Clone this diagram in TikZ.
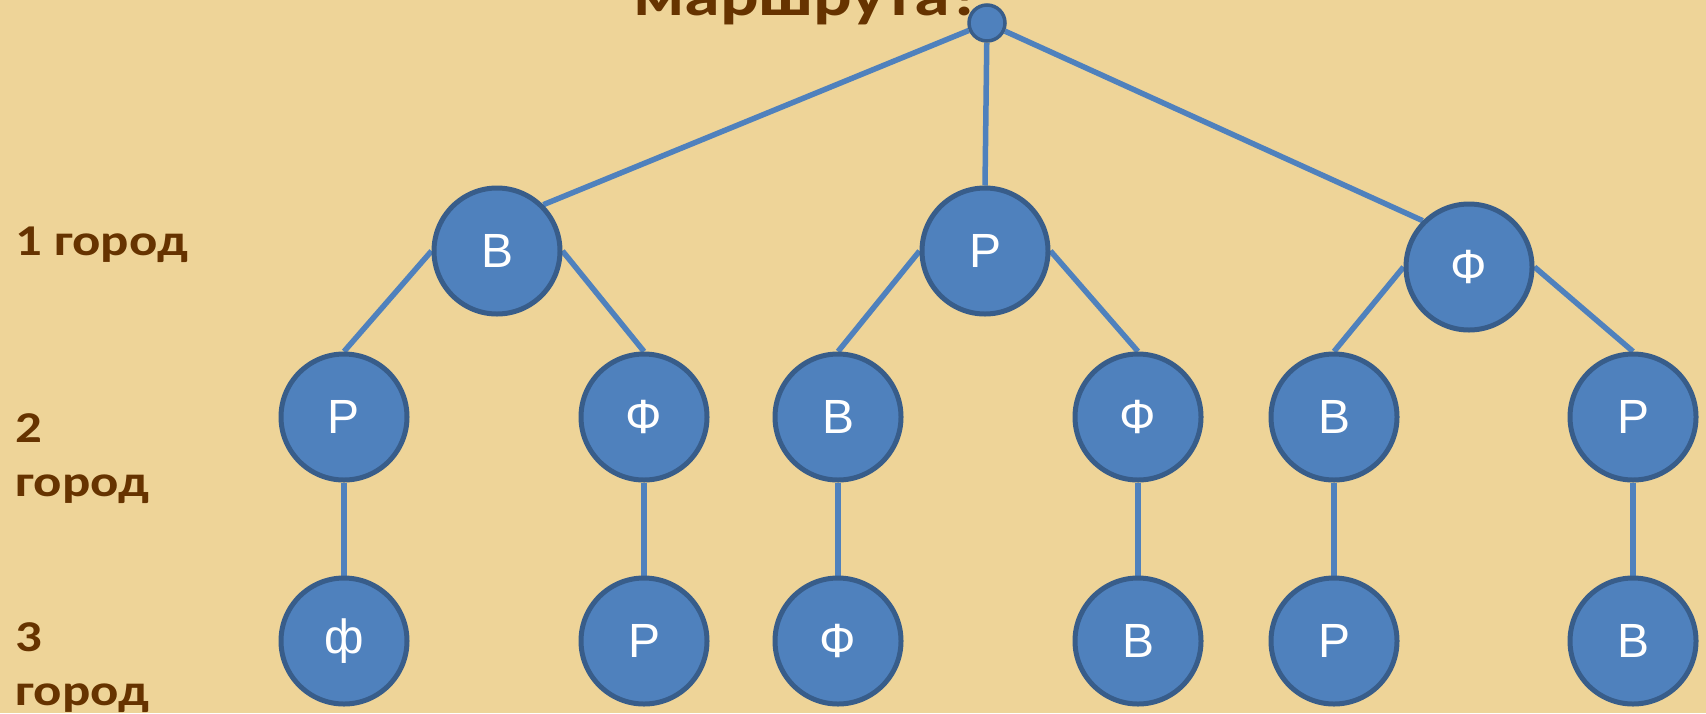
\documentclass[tikz,border=0pt]{standalone}
\usepackage{fontspec}
\setmainfont{Carlito}
\newfontfamily\arialfont{Liberation Sans}
\newfontfamily\widefont{Carlito}[FakeStretch=1.2]
\usetikzlibrary{backgrounds}
\definecolor{pBlue}{RGB}{79,129,189}
\definecolor{pRim}{RGB}{56,93,138}
\definecolor{pBrown}{RGB}{102,51,0}
\definecolor{pPaper}{RGB}{238,212,152}
\tikzset{
    town/.style={circle, draw=pRim, line width=2.5pt, fill=pBlue, minimum size=63pt, inner sep=0pt, text=white, font=\arialfont\fontsize{24}{28}\selectfont},
    rootdot/.style={circle, draw=pRim, line width=1.75pt, fill=pBlue, minimum size=18pt, inner sep=0pt},
    link/.style={line width=2.75pt, pBlue},
    lvl/.style={text=pBrown, font=\widefont\bfseries\fontsize{22}{27}\selectfont, align=left, anchor=north west, inner sep=0pt}
}

\begin{document}
\begin{tikzpicture}[x=0.5pt,y=-0.5pt]
\useasboundingbox (0,0) rectangle (1706,713);
\begin{scope}[on background layer]
\fill[pPaper] (0,0) rectangle (1706,713);
\end{scope}
\node[lvl,anchor=base west,font=\widefont\bfseries\fontsize{30}{36}\selectfont] (title) at (633,15) {маршрута?};
\node[lvl] (l1) at (15,227) {1 город};
\node[lvl] (l2) at (15,413) {2\\город};
\node[lvl] (l3) at (15,622) {3\\город};
\node[rootdot] (root) at (987,23) {};
\node[town] (b1)  at ( 497,251) {В};
\node[town] (p1)  at ( 985,251) {Р};
\node[town] (f1)  at (1469,267) {Ф};
\node[town] (bp)  at ( 344,417) {Р};
\node[town] (bf)  at ( 644,417) {Ф};
\node[town] (pb)  at ( 838,417) {В};
\node[town] (pf)  at (1138,417) {Ф};
\node[town] (fb)  at (1334,417) {В};
\node[town] (fp)  at (1633,417) {Р};
\node[town] (bpf) at ( 344,641) {ф};
\node[town] (bfp) at ( 644,641) {Р};
\node[town] (pbf) at ( 838,641) {Ф};
\node[town] (pfb) at (1138,641) {В};
\node[town] (fbp) at (1334,641) {Р};
\node[town] (fpb) at (1633,641) {В};
\begin{scope}[on background layer]
\draw[link] (root) -- (b1.north east);
\draw[link] (root) -- (p1.north);
\draw[link] (root) -- (f1.north west);
\draw[link] (b1.west) -- (bp.north);
\draw[link] (b1.east) -- (bf.north);
\draw[link] (p1.west) -- (pb.north);
\draw[link] (p1.east) -- (pf.north);
\draw[link] (f1.west) -- (fb.north);
\draw[link] (f1.east) -- (fp.north);
\draw[link] (bp.south) -- (bpf.north);
\draw[link] (bf.south) -- (bfp.north);
\draw[link] (pb.south) -- (pbf.north);
\draw[link] (pf.south) -- (pfb.north);
\draw[link] (fb.south) -- (fbp.north);
\draw[link] (fp.south) -- (fpb.north);
\end{scope}
\end{tikzpicture}
\end{document}
